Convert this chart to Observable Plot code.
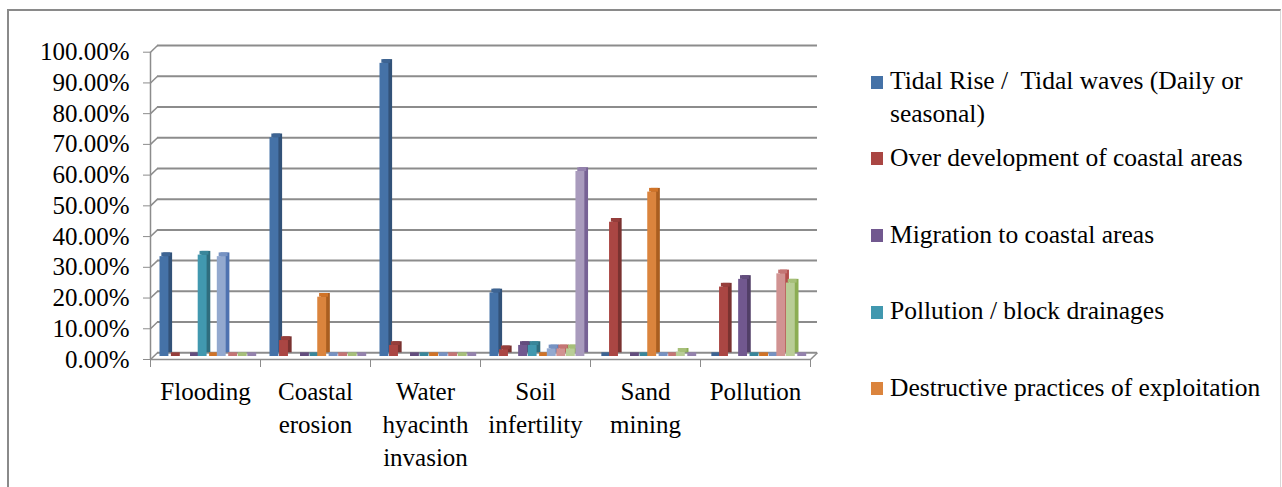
<!DOCTYPE html>
<html>
<head>
<meta charset="utf-8">
<script src="https://cdn.jsdelivr.net/npm/d3@7"></script>
<script src="https://cdn.jsdelivr.net/npm/@observablehq/plot@0.6"></script>
<style>
  html, body { margin: 0; padding: 0; background: #fff; width: 1282px; height: 487px; overflow: hidden; }
  body { position: relative; font-family: "Liberation Serif", "Times New Roman", serif; color: #000; }
  #frame { position: absolute; left: 7px; top: 9px; width: 1274px; height: 600px; box-sizing: border-box;
           border-left: 2px solid #8a8a8a; border-top: 2px solid #8a8a8a; border-right: 1px solid #d8d8d8; }
  #chart { position: absolute; left: 0; top: 0; }
  .sw { position: absolute; width: 12px; height: 13px; }
  .lt { position: absolute; left: 890px; width: 375px; font-size: 25.5px; line-height: 32.7px; white-space: pre-wrap; }
</style>
</head>
<body>
<div id="frame"></div>
<div id="chart"></div>
<div id="legend"></div>
<script>
// ---------- data ----------
const categories = ["Flooding", "Coastal erosion", "Water hyacinth invasion", "Soil infertility", "Sand mining", "Pollution"];
const categoryLabels = ["Flooding", "Coastal\nerosion", "Water\nhyacinth\ninvasion", "Soil\ninfertility", "Sand\nmining", "Pollution"];
const yTicks = [0, 0.1, 0.2, 0.3, 0.4, 0.5, 0.6, 0.7, 0.8, 0.9, 1.0];

const seriesNames = [
  "Tidal Rise /  Tidal waves (Daily or seasonal)",
  "Over development of coastal areas",
  "",
  "Migration to coastal areas",
  "Pollution / block drainages",
  "Destructive practices of exploitation",
  "Series 7",
  "Series 8",
  "Series 9",
  "Series 10"
];
const seriesColors = ["#4572A7", "#AA4643", "#89A54E", "#71588F", "#4198AF", "#DB843D", "#93A9CF", "#D19392", "#B9CD96", "#A99BBD"];

const tidalRise         = [0.325, 0.712, 0.954, 0.207, 0.000, 0.000];
const overDevelopment   = [0.000, 0.052, 0.036, 0.022, 0.437, 0.226];
const blankSeries       = [null, null, null, null, null, null];
const migration         = [0.000, 0.000, 0.000, 0.036, 0.000, 0.251];
const pollutionDrainage = [0.330, 0.000, 0.000, 0.036, 0.000, 0.000];
const destructive       = [0.000, 0.193, 0.000, 0.000, 0.535, 0.000];
const series7           = [0.325, 0.000, 0.000, 0.025, 0.000, 0.000];
const series8           = [0.000, 0.000, 0.000, 0.025, 0.000, 0.269];
const series9           = [0.000, 0.000, 0.000, 0.025, 0.014, 0.239];
const series10          = [0.000, 0.000, 0.000, 0.602, 0.000, 0.000];

const seriesValues = [tidalRise, overDevelopment, blankSeries, migration, pollutionDrainage, destructive, series7, series8, series9, series10];
const legendCount = 5; // entries visible in the (clipped) legend

// ---------- layout ----------
const W = 830, H = 487, ML = 150, MR = 20, MT = 51.7, MB = 128;
const bandPx = (W - ML - MR) / categories.length;   // 110
const plotH = H - MT - MB;                           // ~307
const depthPx = 7, depthPy = 6.7;                    // 3-D wall offset
const depthX = depthPx / bandPx, depthY = depthPy / plotH;
const slotStart = 9.5, slotStep = 9.55, faceW = 8.9, barDepth = 3.7;
const gray = "#8c8c8c";

function shade(c, k) { const h = d3.hsl(c); h.l *= k; return h.formatHex(); }

const idx = d3.range(categories.length);
const barMarks = [];
seriesValues.forEach((vals, s) => {
  const data = idx.filter(i => vals[i] != null);
  if (!data.length) return;
  const insetLeft = slotStart + s * slotStep;
  const insetRight = bandPx - insetLeft - faceW;
  const base = {x1: i => i, x2: i => i + 1, insetLeft, insetRight};
  // back / side face
  barMarks.push(Plot.rect(data, {...base, y1: 0, y2: i => vals[i], fill: shade(seriesColors[s], 0.72),
    dx: barDepth, dy: -3 - barDepth}));
  // top face
  barMarks.push(Plot.rect(data, {...base, y1: i => vals[i], y2: i => vals[i], insetTop: -barDepth,
    fill: shade(seriesColors[s], 0.88), dx: barDepth / 2, dy: -3}));
  // front face
  barMarks.push(Plot.rect(data, {...base, y1: 0, y2: i => vals[i], fill: seriesColors[s], dy: -3}));
});

const chart = Plot.plot({
  width: W, height: H,
  marginLeft: ML, marginRight: MR, marginTop: MT, marginBottom: MB,
  style: {fontFamily: "Liberation Serif, Times New Roman, serif", fontSize: "25px", color: "#000", background: "transparent", overflow: "visible"},
  x: {domain: [0, categories.length], label: null},
  y: {domain: [0, 1], label: null},
  marks: [
    // back wall grid
    Plot.ruleY(yTicks, {x1: 0, x2: categories.length, dx: depthPx, dy: -depthPy, stroke: gray, strokeWidth: 2}),
    // side wall diagonals
    Plot.link(yTicks, {x1: 0, y1: d => d, x2: depthX, y2: d => d + depthY, stroke: gray, strokeWidth: 1.5}),
    Plot.link([0], {x1: categories.length, y1: 0, x2: categories.length + depthX, y2: depthY, stroke: gray, strokeWidth: 1.5}),
    // front axis lines
    Plot.ruleX([0], {y1: 0, y2: 1, stroke: gray, strokeWidth: 1.5}),
    Plot.ruleY([0], {x1: 0, x2: categories.length, stroke: gray, strokeWidth: 1.5}),
    ...barMarks,
    Plot.axisY({ticks: yTicks, tickFormat: d3.format(".2%"), tickSize: 7, tickPadding: 14, stroke: gray, fontSize: 25}),
    Plot.axisX({ticks: d3.range(categories.length + 1), tickSize: 8, tickFormat: () => "", stroke: gray}),
    Plot.axisX({ticks: idx.map(i => i + 0.5), tickFormat: d => categoryLabels[Math.floor(d)], tickSize: 0,
      tickPadding: 17, lineHeight: 1.32, fontSize: 25})
  ]
});
document.getElementById("chart").appendChild(chart);

// ---------- legend ----------
const legend = document.getElementById("legend");
const named = seriesNames.map((n, s) => ({n, s})).filter(d => d.n !== "").slice(0, legendCount);
named.forEach((d, k) => {
  const sw = document.createElement("div");
  sw.className = "sw";
  sw.style.left = "871px";
  sw.style.top = (75.5 + k * 76.7) + "px";
  sw.style.background = seriesColors[d.s];
  legend.appendChild(sw);
  const t = document.createElement("div");
  t.className = "lt";
  t.style.top = (65.2 + k * 76.7) + "px";
  t.textContent = d.n;
  legend.appendChild(t);
});
</script>
</body>
</html>
